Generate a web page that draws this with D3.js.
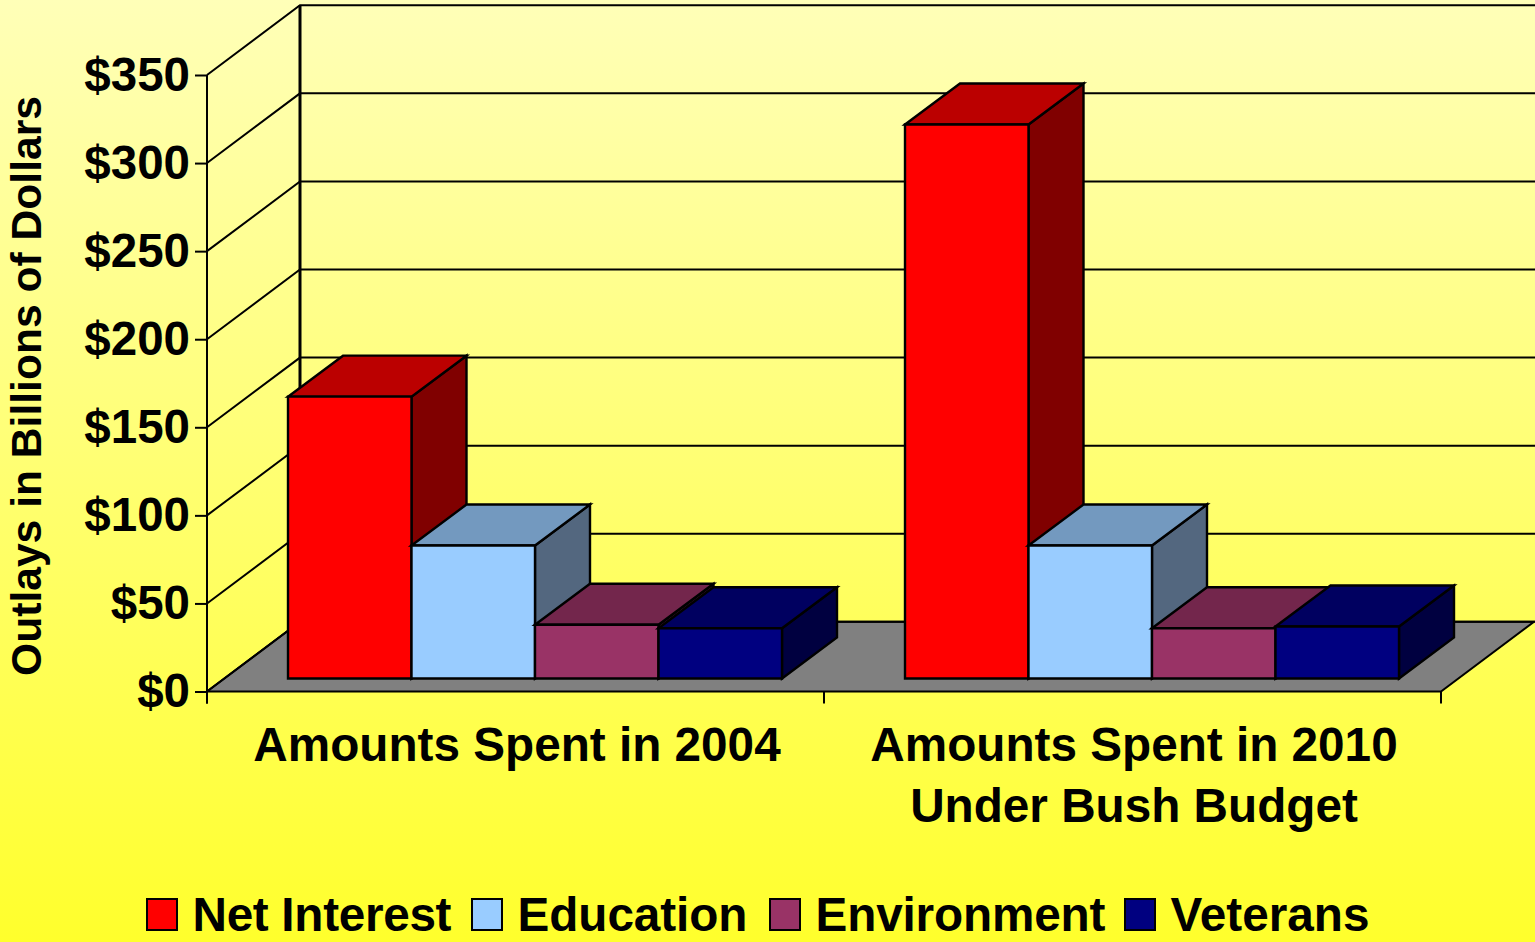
<!DOCTYPE html>
<html>
<head>
<meta charset="utf-8">
<script src="https://cdn.jsdelivr.net/npm/d3@7"></script>
<style>
html,body{margin:0;padding:0;overflow:hidden;background:#ffff33}
svg{display:block}
text{font-family:"Liberation Sans",Arial,sans-serif;font-weight:bold;fill:#000}
</style>
</head>
<body>
<script>
const categories = ["Amounts Spent in 2004", "Amounts Spent in 2010"];
const categorySecondLine = ["", "Under Bush Budget"];
const seriesNames = ["Net Interest", "Education", "Environment", "Veterans"];
const netInterest = [160, 314.5];
const education = [75.5, 75.5];
const environment = [30.5, 28.5];
const veterans = [28.5, 29.5];
const yTicks = [0, 50, 100, 150, 200, 250, 300, 350];
const axisTitle = "Outlays in Billions of Dollars";
const seriesValues = [netInterest, education, environment, veterans];
const frontColors = ["#ff0000", "#99ccff", "#993366", "#000080"];
const topColors = ["#bb0000", "#7399bf", "#73264c", "#000060"];
const sideColors = ["#800000", "#53677f", "#4d1a33", "#000040"];

const W = 1535, H = 942;
const plotLeft = 207, plotRight = 1441, plotBase = 691.5, plotTop = 75;
const depthX = 93, depthY = -69.7;
const barDX = 55, barDY = -41, barLift = 13;
const legendX = [147, 472, 770, 1125];
const legendTextWidth = [259, 230, 290, 199];

const svg = d3.select("body").append("svg").attr("width", W).attr("height", H);
const grad = svg.append("defs").append("linearGradient").attr("id", "bg")
  .attr("x1", 0).attr("y1", 0).attr("x2", 0).attr("y2", 1);
grad.append("stop").attr("offset", 0).attr("stop-color", "#ffffb8");
grad.append("stop").attr("offset", 1).attr("stop-color", "#ffff2c");
svg.append("rect").attr("width", W).attr("height", H).attr("fill", "url(#bg)");

const y = d3.scaleLinear().domain([0, 350]).range([plotBase, plotTop]);
const x0 = d3.scaleBand().domain(categories).range([plotLeft, plotRight]);
const x1 = d3.scaleBand().domain(seriesNames).range([81, 575]);

const line = d3.line();
const stroke = g => g.attr("stroke", "#000").attr("stroke-width", 2).attr("stroke-linejoin", "miter");

// floor
svg.append("path")
  .attr("d", line([[plotLeft, plotBase], [plotRight, plotBase], [plotRight + depthX, plotBase + depthY], [plotLeft + depthX, plotBase + depthY]]) + "Z")
  .attr("fill", "#808080").call(stroke);

// walls: grid lines
svg.append("g").selectAll("path").data(yTicks).join("path")
  .attr("fill", "none").call(stroke)
  .attr("d", d => line([[plotLeft, y(d)], [plotLeft + depthX, y(d) + depthY], [W, y(d) + depthY]]));
svg.append("path").attr("fill", "none").call(stroke).attr("stroke-width", 3)
  .attr("d", line([[plotLeft + depthX, plotTop + depthY], [plotLeft + depthX, plotBase + depthY]]));

// bars
const bars = svg.append("g");
categories.forEach((c, ci) => {
  seriesNames.forEach((s, si) => {
    const v = seriesValues[si][ci];
    const xa = x0(c) + x1(s), xb = xa + x1.bandwidth();
    const yb = plotBase - barLift, yt = y(v) - barLift;
    const g = bars.append("g").call(stroke).attr("stroke-width", 2.4);
    g.append("path").attr("fill", sideColors[si])
      .attr("d", line([[xb, yb], [xb + barDX, yb + barDY], [xb + barDX, yt + barDY], [xb, yt]]) + "Z");
    g.append("path").attr("fill", topColors[si])
      .attr("d", line([[xa, yt], [xa + barDX, yt + barDY], [xb + barDX, yt + barDY], [xb, yt]]) + "Z");
    g.append("path").attr("fill", frontColors[si])
      .attr("d", line([[xa, yb], [xb, yb], [xb, yt], [xa, yt]]) + "Z");
  });
});

// y axis
const yAxis = svg.append("g").attr("transform", `translate(${plotLeft},0)`)
  .call(d3.axisLeft(y).tickValues(yTicks).tickFormat(d3.format("$")).tickSize(12).tickSizeOuter(0).tickPadding(5));
yAxis.select(".domain").attr("stroke", "#000").attr("stroke-width", 2).attr("d", line([[0, plotTop], [0, plotBase + 12]]));
yAxis.selectAll(".tick line").attr("stroke", "#000").attr("stroke-width", 2);
yAxis.selectAll("text").attr("font-size", 47.5).attr("font-family", '"Liberation Sans",Arial,sans-serif').attr("font-weight", "bold").attr("fill", "#000");

// x axis ticks at category edges
const edges = categories.map(c => x0(c)).concat([plotRight]);
svg.append("g").selectAll("line").data(edges).join("line")
  .attr("x1", d => d).attr("x2", d => d).attr("y1", plotBase).attr("y2", plotBase + 12).call(stroke);

// x labels
const labels = svg.append("g").attr("font-size", 47.7).attr("text-anchor", "middle");
categories.forEach((c, i) => {
  const cx = x0(c) + x0.bandwidth() / 2 + 1.5;
  labels.append("text").attr("x", cx).attr("y", 761).text(c);
  if (categorySecondLine[i]) labels.append("text").attr("x", cx).attr("y", 822).text(categorySecondLine[i]);
});

// axis title
svg.append("text").attr("transform", "translate(41,386) rotate(-90)")
  .attr("text-anchor", "middle").attr("font-size", 42.6).text(axisTitle);

// legend
const legend = svg.append("g");
seriesNames.forEach((s, i) => {
  legend.append("rect").attr("x", legendX[i]).attr("y", 899).attr("width", 30).attr("height", 31)
    .attr("fill", frontColors[i]).call(stroke);
  legend.append("text").attr("x", legendX[i] + 45.5).attr("y", 931).attr("font-size", 47.7)
    .attr("textLength", legendTextWidth[i]).attr("lengthAdjust", "spacing").text(s);
});
</script>
</body>
</html>
